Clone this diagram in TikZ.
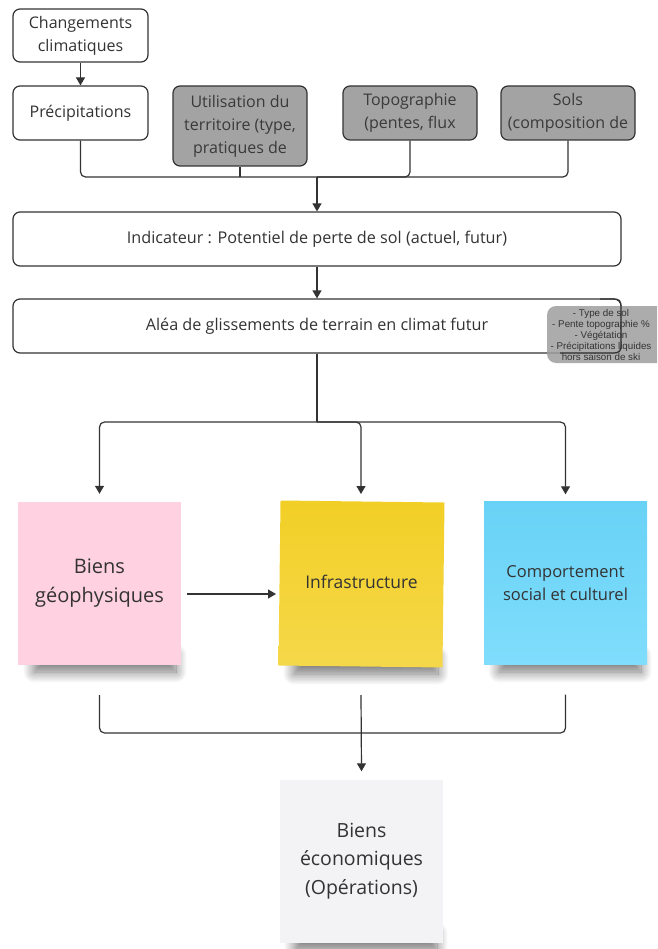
\documentclass[tikz,border=0pt]{standalone}
\usepackage{fontspec}
\setmainfont{Open Sans}
\newfontfamily\notefont{Liberation Sans}
\usetikzlibrary{arrows.meta,shadows.blur,calc}
\definecolor{ink}{HTML}{333333}
\definecolor{boxgray}{HTML}{A3A3A3}
\definecolor{graytext}{HTML}{3A3A3A}
\definecolor{notegray}{HTML}{9E9E9E}
\definecolor{pinknote}{HTML}{FFD1E1}
\definecolor{yellowtop}{HTML}{F2CF26}
\definecolor{yellowbot}{HTML}{F5D84A}
\definecolor{bluetop}{HTML}{68D2F6}
\definecolor{bluebot}{HTML}{80DDFC}
\definecolor{paper}{HTML}{F3F3F5}
\tikzset{
  box/.style={draw=ink, line width=1.2pt, rounded corners=7pt, fill=white,
    text=ink, align=center, inner sep=0pt,
    font=\fontsize{16}{23}\selectfont},
  graybox/.style={box, fill=boxgray, text=graytext},
  wide/.style={box, minimum width=608pt, minimum height=54pt,
    font=\fontsize{16.2}{20}\selectfont},
  sticky/.style={inner sep=0pt, minimum width=163pt, minimum height=163pt,
    align=center, text=ink},
  link/.style={draw=ink, line width=1.2pt, rounded corners=5pt},
  arrowlink/.style={link, -{Triangle[length=8pt,width=9pt]}},
  curl/.style={blur shadow={shadow xshift=0pt, shadow yshift=-9pt,
    shadow blur radius=11pt, shadow blur steps=16, shadow opacity=55}}
}
\begin{document}
\begin{tikzpicture}[x=1pt,y=-1pt]
\useasboundingbox (0,0) rectangle (657,949);
\clip (0,0) rectangle (657,949);

% upper chain of inputs
\node[box, minimum width=135pt, minimum height=53pt] (cc) at (80.5,35.5)
  {Changements\\climatiques};
\node[box, minimum width=135pt, minimum height=54pt] (prec) at (80.5,113)
  {Précipitations};
\node[graybox, minimum width=134pt, minimum height=80pt] (util) at (240,126)
  {Utilisation du\\territoire (type,\\pratiques de};
\node[graybox, minimum width=134pt, minimum height=54pt] (topo) at (410,113)
  {Topographie\\(pentes, flux};
\node[graybox, minimum width=134pt, minimum height=54pt] (sols) at (568,113)
  {Sols\\(composition de};

\draw[arrowlink] (cc) -- (prec);

\coordinate (j1) at (317,177);
\draw[link] (prec.south) |- (j1);
\draw[link] (topo.south) |- (j1);
\draw[link] (sols.south) |- (j1);
\draw[link] (util.south) -- (util.south |- j1);

% indicator and hazard
\node[wide] (ind) at (317,239) {Indicateur : Potentiel de perte de sol (actuel, futur)};
\node[wide] (alea) at (317,326) {Aléa de glissements de terrain en climat futur};
\draw[arrowlink] (j1) -- (ind.north);
\draw[arrowlink] (ind.south) -- (alea.north);

% side note over the hazard box
\fill[notegray, fill opacity=0.85, rounded corners=9pt] (547,306) rectangle (668,363);
\draw[ink, line width=1.2pt] (600,299) -- (614,299)
  .. controls (619,299) and (621,301) .. (621,306) -- (621,346)
  .. controls (621,351) and (619,353) .. (614,353) -- (560,353);
\begin{scope}
  \clip[rounded corners=9pt] (547,306) rectangle (668,363);
  \node[text=ink, align=center, inner sep=0pt, anchor=north,
    font=\notefont\fontsize{9.8}{11}\selectfont] (note) at (601,309.5)
    {- Type de sol\\- Pente topographie \%\\- Végétation\\- Précipitations liquides\\hors saison de ski};
\end{scope}

% sticky notes with their soft shadows
\coordinate (j2) at (317,422);
\path[curl] (34,646) rectangle (176,663);
\node[sticky, fill=pinknote, font=\fontsize{20}{29}\selectfont] (geo) at (99.5,583.5)
  {Biens\\géophysiques};
\path[curl] (294,648) rectangle (438,665);
\node[sticky, rotate=-0.7, top color=yellowtop, bottom color=yellowbot,
  minimum width=164pt, minimum height=165pt] (infra) at (361.5,584) {};
\node[text=ink, inner sep=0pt, font=\fontsize{17.5}{22}\selectfont] (infratxt)
  at (361.5,582) {Infrastructure};
\path[curl] (499,646) rectangle (641,663);
\node[sticky, top color=bluetop, bottom color=bluebot,
  font=\fontsize{16.5}{23}\selectfont] (soc) at (565.5,583)
  {Comportement\\social et culturel};

\draw[link] (alea.south) -- (j2);
\draw[arrowlink] (j2) -| ($(geo.north)+(0,-8)$);
\draw[arrowlink] (j2) -| (361,494);
\draw[arrowlink] (j2) -| ($(soc.north)+(0,-7)$);

\coordinate (gtail) at ($(geo.east)+(6,10.5)$);
\draw[arrowlink] (gtail) -- (gtail -| 276,0);

% economic assets
\path[curl] (295,924) rectangle (437,941);
\node[sticky, fill=paper, font=\fontsize{19.5}{28.5}\selectfont] (eco) at (361.5,861)
  {Biens\\économiques\\(Opérations)};

\coordinate (j3) at (361,733);
\draw[link] ($(geo.south)+(0,30)$) |- (j3);
\draw[link] ($(soc.south)+(0,30)$) |- (j3);
\draw[arrowlink] (361,695) -- ($(eco.north)+(0,-8)$);
\end{tikzpicture}
\end{document}
